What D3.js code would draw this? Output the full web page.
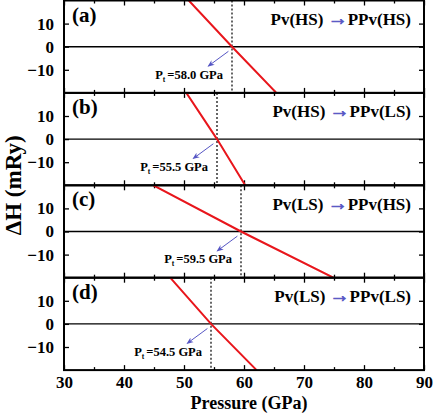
<!DOCTYPE html>
<html>
<head>
<meta charset="utf-8">
<script src="https://cdn.jsdelivr.net/npm/d3@7"></script>
<style>
  body { margin: 0; background: #fff; }
</style>
</head>
<body>
<div id="chart"></div>
<script>
"use strict";

// panel data
const panelTags = ["(a)", "(b)", "(c)", "(d)"];
const fromPhase = ["Pv(HS)", "Pv(HS)", "Pv(LS)", "Pv(LS)"];
const toPhase = ["PPv(HS)", "PPv(LS)", "PPv(HS)", "PPv(LS)"];
const transitionP = [58.0, 55.5, 59.5, 54.5];
// pressure where each ΔH line crosses +20, 0 and -20 mRy
const lineDH = [20, 0, -20];
const linePressure = [
    [50.8, 58.0, 65.4],
    [50.4, 55.5, 60.2],
    [44.9, 59.5, 74.9],
    [47.7, 54.5, 62.1]
];
const xTicks = [30, 40, 50, 60, 70, 80, 90];
const xMinorTicks = [35, 45, 55, 65, 75, 85];
const yTicks = [-10, 0, 10];

const WIDTH = 436, HEIGHT = 418;
const LEFT = 64, RIGHT = 424, TOP = 0.5, PANEL_H = 92.4;
const RED = "#e8161c", BLUE = "#5656c4";
const FONT = "Liberation Serif, Tinos, Times New Roman, DejaVu Serif, serif";

let svg = d3.select("#chart").append("svg")
    .attr("width", WIDTH)
    .attr("height", HEIGHT)
    .style("font-family", FONT)
    .style("font-weight", "bold");

let defs = svg.append("defs");
defs.append("marker")
    .attr("id", "head")
    .attr("viewBox", "0 0 10 10")
    .attr("refX", 8).attr("refY", 5)
    .attr("markerWidth", 7).attr("markerHeight", 7)
    .attr("orient", "auto")
    .append("path")
    .attr("d", "M0,1 L10,5 L0,9 L3,5 Z")
    .attr("fill", BLUE);

let x = d3.scaleLinear().domain([30, 90]).range([LEFT, RIGHT]);

panelTags.forEach((tag, i) =>
{
    let top = TOP + i * PANEL_H;
    let y = d3.scaleLinear().domain([-20, 20]).range([top + PANEL_H, top]);
    let g = svg.append("g");

    // clip to panel
    let clipId = "clip" + i;
    defs.append("clipPath").attr("id", clipId)
        .append("rect")
        .attr("x", LEFT).attr("y", top)
        .attr("width", RIGHT - LEFT).attr("height", PANEL_H);

    // zero line
    g.append("line")
        .attr("x1", LEFT).attr("x2", RIGHT)
        .attr("y1", y(0)).attr("y2", y(0))
        .attr("stroke", "#000").attr("stroke-width", 1.4);

    // ticks
    let bottomAxis = g.append("g")
        .attr("transform", "translate(0," + (top + PANEL_H) + ")")
        .call(d3.axisBottom(x).tickValues(xTicks).tickSize(-5).tickPadding(6)
              .tickFormat(i === panelTags.length - 1 ? d3.format("d") : ""));
    g.append("g")
        .attr("transform", "translate(0," + (top + PANEL_H) + ")")
        .call(d3.axisBottom(x).tickValues(xMinorTicks).tickSize(-3).tickFormat(""));
    g.append("g")
        .attr("transform", "translate(0," + top + ")")
        .call(d3.axisTop(x).tickValues(xTicks).tickSize(-5).tickFormat(""));
    g.append("g")
        .attr("transform", "translate(0," + top + ")")
        .call(d3.axisTop(x).tickValues(xMinorTicks).tickSize(-3).tickFormat(""));
    let leftAxis = g.append("g")
        .attr("transform", "translate(" + LEFT + ",0)")
        .call(d3.axisLeft(y).tickValues(yTicks).tickSize(-5).tickPadding(10));
    g.append("g")
        .attr("transform", "translate(" + RIGHT + ",0)")
        .call(d3.axisRight(y).tickValues(yTicks).tickSize(-5).tickFormat(""));

    g.selectAll(".domain").remove();
    g.selectAll("g").attr("font-family", null).attr("font-size", null);
    g.selectAll(".tick line").attr("stroke", "#000").attr("stroke-width", 1.3);
    leftAxis.selectAll("text").attr("font-size", 17).attr("fill", "#000");
    bottomAxis.selectAll("text").attr("font-size", 17).attr("fill", "#000");

    // dotted transition line
    g.append("line")
        .attr("x1", x(transitionP[i])).attr("x2", x(transitionP[i]))
        .attr("y1", top).attr("y2", top + PANEL_H)
        .attr("stroke", "#000").attr("stroke-width", 1.2)
        .attr("stroke-dasharray", "2,2");

    // ΔH line
    let line = d3.line()
        .x(d => x(d[0]))
        .y(d => y(d[1]));
    g.append("path")
        .datum(linePressure[i].map((p, k) => [p, lineDH[k]]))
        .attr("d", line)
        .attr("clip-path", "url(#" + clipId + ")")
        .attr("fill", "none")
        .attr("stroke", RED)
        .attr("stroke-width", 2);

    // border
    g.append("rect")
        .attr("x", LEFT).attr("y", top)
        .attr("width", RIGHT - LEFT).attr("height", PANEL_H)
        .attr("fill", "none").attr("stroke", "#000").attr("stroke-width", 2);

    // arrow to label
    let pt = transitionP[i];
    g.append("line")
        .attr("x1", x(pt - 0.6)).attr("y1", y(-2))
        .attr("x2", x(pt - 3.9)).attr("y2", y(-8.3))
        .attr("stroke", BLUE).attr("stroke-width", 1)
        .attr("marker-end", "url(#head)");

    // transition label
    let lbl = g.append("text")
        .attr("x", x(pt) - 9).attr("y", y(-13.8))
        .attr("text-anchor", "end")
        .attr("font-size", 12.5);
    lbl.append("tspan").text("P");
    lbl.append("tspan").attr("font-size", 7.5).attr("dy", 3).text("t");
    lbl.append("tspan").attr("dy", -3).attr("dx", 2).text("=" + pt.toFixed(1) + " GPa");

    // panel tag
    g.append("text")
        .attr("x", 72).attr("y", top + 21)
        .attr("font-size", 21)
        .text(tag);

    // transition name
    let tr = g.append("text")
        .attr("x", 411).attr("y", top + 24.5)
        .attr("text-anchor", "end")
        .attr("font-size", 17);
    tr.append("tspan").text(fromPhase[i] + " ");
    tr.append("tspan").attr("fill", BLUE)
        .attr("stroke", BLUE).attr("stroke-width", 0.7)
        .attr("font-size", 20).text("\u2192");
    tr.append("tspan").text(toPhase[i]);
});

// axis titles
svg.append("text")
    .attr("x", (LEFT + RIGHT) / 2 + 5).attr("y", 409)
    .attr("text-anchor", "middle")
    .attr("font-size", 18)
    .text("Pressure (GPa)");

svg.append("text")
    .attr("transform", "translate(21," + (TOP + 2 * PANEL_H) + ") rotate(-90)")
    .attr("text-anchor", "middle")
    .attr("font-size", 23)
    .text("\u0394H (mRy)");
</script>
</body>
</html>
